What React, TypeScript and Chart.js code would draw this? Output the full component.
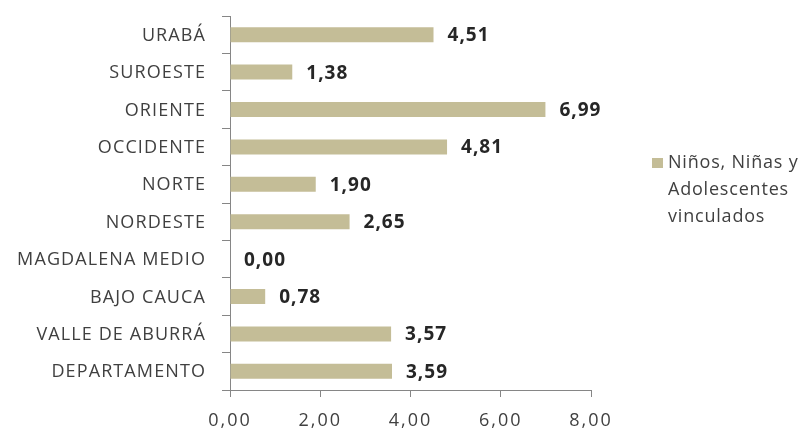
import React, { useEffect, useRef } from "react";
import { Chart, registerables } from "chart.js";

Chart.register(...registerables);

const categories = [
  "URABÁ",
  "SUROESTE",
  "ORIENTE",
  "OCCIDENTE",
  "NORTE",
  "NORDESTE",
  "MAGDALENA MEDIO",
  "BAJO CAUCA",
  "VALLE DE ABURRÁ",
  "DEPARTAMENTO",
];
const values = [4.51, 1.38, 6.99, 4.81, 1.9, 2.65, 0.0, 0.78, 3.57, 3.59];
const legendLines = ["Niños, Niñas y", "Adolescentes", "vinculados"];
const seriesName = legendLines.join(" ");
const xMin = 0;
const xMax = 8;
const xStep = 2;

const BAR = "#C4BD97";
const AXIS = "#868686";
const TEXT = "#404040";
const FONT = "'Open Sans', 'DejaVu Sans', sans-serif";

const fmt = (v: number) => v.toFixed(2).replace(".", ",");

const overlay = {
  id: "overlay",
  beforeDraw(chart: any) {
    (chart.ctx as any).letterSpacing = "2px";
  },
  afterDraw(chart: any) {
    const ctx = chart.ctx as CanvasRenderingContext2D;
    const ys = chart.scales.y;
    // category labels
    ctx.save();
    (ctx as any).letterSpacing = "1.1px";
    ctx.font = `18px ${FONT}`;
    ctx.fillStyle = TEXT;
    ctx.textAlign = "right";
    ctx.textBaseline = "middle";
    categories.forEach((c, i) => {
      const y = ys.getPixelForTick(i);
      ctx.fillText(c, ys.right - 24, y + 1);
    });
    ctx.restore();

    // data labels
    ctx.save();
    (ctx as any).letterSpacing = "1px";
    ctx.font = `bold 19px ${FONT}`;
    ctx.fillStyle = "#262626";
    ctx.textAlign = "left";
    ctx.textBaseline = "middle";
    const meta = chart.getDatasetMeta(0);
    meta.data.forEach((bar: any, i: number) => {
      ctx.fillText(fmt(values[i]), bar.x + 14, bar.y + 1);
    });
    ctx.restore();

    // legend
    ctx.save();
    const lx = chart.chartArea.right + 61;
    const ly = 163;
    ctx.fillStyle = BAR;
    ctx.fillRect(lx, ly - 5, 11, 10);
    (ctx as any).letterSpacing = "0.8px";
    ctx.font = `18px ${FONT}`;
    ctx.fillStyle = TEXT;
    ctx.textAlign = "left";
    ctx.textBaseline = "middle";
    legendLines.forEach((t, i) => {
      ctx.fillText(t, lx + 16, ly + i * 27);
    });
    ctx.restore();
    (ctx as any).letterSpacing = "0px";
  },
};

export default function App() {
  const ref = useRef<HTMLCanvasElement | null>(null);
  useEffect(() => {
    if (!ref.current) return;
    const chart = new Chart(ref.current, {
      type: "bar",
      data: {
        labels: categories,
        datasets: [
          {
            label: seriesName,
            data: values,
            backgroundColor: BAR,
            borderWidth: 0,
            barPercentage: 0.4,
            categoryPercentage: 1,
          },
        ],
      },
      options: {
        indexAxis: "y",
        animation: false,
        responsive: false,
        maintainAspectRatio: false,
        layout: { padding: { left: 0, top: 16, right: 212, bottom: 0 } },
        plugins: { legend: { display: false }, tooltip: { enabled: false } },
        scales: {
          y: {
            type: "category",
            offset: true,
            grid: {
              display: true,
              drawOnChartArea: false,
              drawTicks: true,
              tickLength: 8,
              color: AXIS,
              offset: true,
            },
            border: { display: true, color: AXIS, width: 1 },
            ticks: { display: false },
            afterFit: (s: any) => {
              s.width = 230;
            },
          },
          x: {
            type: "linear",
            min: xMin,
            max: xMax,
            grid: {
              display: true,
              drawOnChartArea: false,
              drawTicks: true,
              tickLength: 7,
              color: AXIS,
            },
            border: { display: true, color: AXIS, width: 1 },
            ticks: {
              stepSize: xStep,
              padding: 13,
              color: TEXT,
              font: { family: FONT, size: 18 },
              callback: (v: any) => fmt(Number(v)),
            },
            afterFit: (s: any) => {
              s.height = 39;
            },
          },
        },
      },
      plugins: [overlay],
    });
    return () => chart.destroy();
  }, []);
  return (
    <div style={{ position: "fixed", left: 0, top: 0, width: 803, height: 429, background: "#fff" }}>
      <canvas ref={ref} width={803} height={429} />
    </div>
  );
}
